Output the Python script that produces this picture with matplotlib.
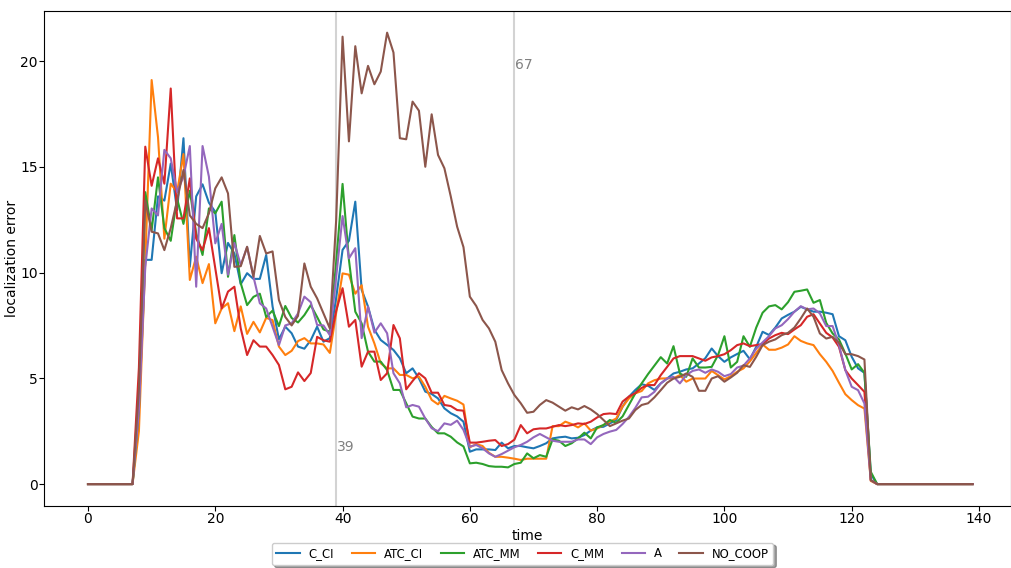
import matplotlib
matplotlib.use("Agg")
import matplotlib.pyplot as plt
import numpy as np

# localization error per time step for each strategy
time = np.arange(140)

c_ci = [0, 0, 0, 0, 0, 0, 0, 0,
        3.5, 10.6, 10.6, 13.6, 13.4, 15.15, 12.95, 16.35, 10.27, 13.6,
        14.17, 13.3, 12.87, 9.97, 11.4, 10.9, 9.45, 9.97, 9.7, 9.7,
        10.83, 8.4, 6.84, 7.44, 7.13, 6.5, 6.4, 6.8, 7.44, 6.73,
        6.9, 8.8, 11.07, 11.5, 13.35, 9.18, 8.39, 7.3, 6.81, 6.58,
        6.34, 5.95, 5.24, 5.47, 5.0, 4.37, 4.26, 4.05, 3.58, 3.35,
        3.2, 2.95, 1.53, 1.64, 1.64, 1.64, 1.61, 1.96, 1.69, 1.8,
        1.8, 1.74, 1.69, 1.8, 1.93, 2.16, 2.21, 2.24, 2.16, 2.19,
        2.32, 2.53, 2.68, 2.71, 2.87, 3.03, 3.66, 4.13, 4.45, 4.72,
        4.65, 4.45, 4.76, 4.99, 5.23, 5.31, 5.42, 5.47, 5.7, 5.95,
        6.41, 6.05, 5.78, 5.99, 6.15, 6.3, 5.9, 6.49, 7.2, 7.05,
        7.4, 7.83, 8.0, 8.15, 8.38, 8.26, 8.15, 8.15, 8.1, 8.03,
        6.99, 6.8, 6.02, 5.47, 5.26, 0.47,
        0, 0, 0, 0, 0, 0, 0, 0, 0, 0, 0, 0, 0, 0, 0, 0]

atc_ci = [0, 0, 0, 0, 0, 0, 0, 0,
          2.5, 10.5, 19.1, 16.4, 11.6, 14.2, 13.8, 15.6, 9.65, 10.75,
          9.5, 10.4, 7.6, 8.3, 8.55, 7.23, 8.4, 7.1, 7.67, 7.17,
          7.86, 7.75, 6.5, 6.1, 6.3, 6.76, 6.9, 6.65, 6.65, 6.6,
          6.2, 8.1, 9.96, 9.9, 9.0, 9.4, 7.44, 6.65, 5.71, 5.47,
          5.47, 5.16, 5.16, 5.0, 5.08, 4.6, 3.98, 3.77, 4.17, 4.05,
          3.94, 3.76, 1.74, 1.89, 1.8, 1.48, 1.29, 1.29, 1.25, 1.2,
          1.14, 1.2, 1.2, 1.2, 1.2, 2.74, 2.74, 2.95, 2.84, 2.68,
          2.87, 2.53, 2.63, 2.79, 2.95, 3.1, 3.66, 4.05, 4.29, 4.4,
          4.76, 4.91, 4.99, 5.0, 5.0, 5.15, 4.84, 4.99, 4.99, 4.99,
          5.35, 5.15, 4.95, 5.1, 5.31, 5.47, 5.8, 6.2, 6.6, 6.35,
          6.35, 6.45, 6.6, 6.99, 6.77, 6.65, 6.57, 6.14, 5.78, 5.35,
          4.79, 4.25, 3.97, 3.73, 3.57, 0.15,
          0, 0, 0, 0, 0, 0, 0, 0, 0, 0, 0, 0, 0, 0, 0, 0]

atc_mm = [0, 0, 0, 0, 0, 0, 0, 0,
          3.5, 13.8, 12.0, 14.5, 12.1, 11.5, 13.5, 12.3, 13.87, 11.85,
          10.83, 13.03, 12.8, 13.35, 9.8, 11.77, 9.5, 8.46, 8.85, 9.0,
          7.9, 8.2, 7.47, 8.42, 7.85, 7.64, 7.99, 8.46, 7.9, 7.31,
          7.2, 10.5, 14.19, 10.6, 8.15, 7.6, 6.26, 5.79, 5.79, 5.39,
          4.45, 4.45, 3.82, 3.19, 3.1, 3.1, 2.7, 2.4, 2.4, 2.24,
          1.97, 1.78, 0.98, 1.01, 0.95, 0.85, 0.82, 0.82, 0.79, 0.95,
          1.01, 1.45, 1.22, 1.37, 1.29, 2.11, 2.05, 1.8, 1.93, 2.16,
          2.43, 2.16, 2.68, 2.79, 3.03, 2.9, 3.2, 3.74, 4.29, 4.76,
          5.2, 5.6, 6.0, 5.7, 6.52, 5.23, 5.07, 5.94, 5.51, 5.51,
          5.54, 6.1, 6.99, 5.51, 5.78, 6.99, 6.49, 7.4, 8.1, 8.4,
          8.46, 8.26, 8.6, 9.09, 9.14, 9.2, 8.57, 8.7, 7.62, 7.12,
          6.84, 6.17, 5.42, 5.67, 5.26, 0.58,
          0, 0, 0, 0, 0, 0, 0, 0, 0, 0, 0, 0, 0, 0, 0, 0]

c_mm = [0, 0, 0, 0, 0, 0, 0, 0,
        5.5, 15.95, 14.1, 15.4, 14.2, 18.7, 12.56, 12.56, 14.45, 11.6,
        11.06, 12.1, 10.2, 8.3, 9.1, 9.33, 7.36, 6.1, 6.8, 6.5,
        6.5, 6.1, 5.63, 4.48, 4.6, 5.28, 4.87, 5.25, 6.96, 6.8,
        6.73, 8.2, 9.26, 7.44, 7.76, 5.55, 6.26, 6.26, 4.92, 5.24,
        7.52, 6.89, 4.48, 4.87, 5.24, 5.0, 4.32, 4.32, 3.74, 3.69,
        3.5, 3.47, 1.96, 1.96, 2.0, 2.05, 2.08, 1.8, 1.89, 2.1,
        2.79, 2.4, 2.59, 2.63, 2.63, 2.71, 2.79, 2.74, 2.79, 2.87,
        2.84, 2.95, 3.15, 3.31, 3.34, 3.31, 3.9, 4.14, 4.3, 4.55,
        4.68, 4.68, 5.15, 5.54, 5.94, 6.05, 6.05, 6.05, 5.94, 5.83,
        5.99, 6.05, 6.14, 6.33, 6.57, 6.65, 6.52, 6.57, 6.62, 6.88,
        7.04, 7.15, 7.09, 7.31, 7.51, 7.91, 8.03, 7.59, 7.15, 6.93,
        6.49, 5.39, 4.99, 4.68, 4.36, 0.19,
        0, 0, 0, 0, 0, 0, 0, 0, 0, 0, 0, 0, 0, 0, 0, 0]

a = [0, 0, 0, 0, 0, 0, 0, 0,
     3.5, 10.27, 13.03, 12.7, 15.8, 15.4, 13.8, 14.53, 15.98, 9.33,
     15.98, 14.53, 11.38, 12.3, 9.9, 11.4, 10.35, 11.2, 9.8, 8.55,
     8.3, 7.44, 6.57, 7.5, 7.6, 8.07, 8.86, 8.6, 7.52, 7.5,
     7.04, 9.8, 12.67, 10.67, 11.15, 6.9, 8.39, 7.16, 7.6, 7.13,
     5.24, 4.76, 3.63, 3.74, 3.66, 3.1, 2.64, 2.5, 2.87, 2.8,
     3.0, 2.56, 1.77, 1.85, 1.69, 1.45, 1.29, 1.42, 1.58, 1.74,
     1.85, 2.0, 2.21, 2.37, 2.21, 2.05, 2.0, 2.0, 2.0, 2.11,
     2.11, 1.89, 2.21, 2.37, 2.48, 2.56, 2.84, 3.18, 3.6, 4.1,
     4.13, 4.36, 4.76, 4.99, 5.07, 4.76, 5.15, 5.35, 5.42, 5.26,
     5.42, 5.31, 5.1, 5.2, 5.51, 5.6, 5.94, 6.4, 6.7, 6.99,
     7.36, 7.51, 7.8, 8.15, 8.41, 8.26, 8.3, 8.07, 7.47, 7.47,
     6.57, 5.39, 4.6, 4.44, 3.81, 0.19,
     0, 0, 0, 0, 0, 0, 0, 0, 0, 0, 0, 0, 0, 0, 0, 0]

no_coop = [0, 0, 0, 0, 0, 0, 0, 0,
           4.5, 13.4, 11.93, 11.85, 11.06, 12.1, 13.4, 14.85, 12.7, 12.3,
           12.1, 12.8, 13.98, 14.5, 13.74, 10.27, 10.3, 11.22, 9.8, 11.73,
           10.9, 11.0, 8.7, 7.9, 7.5, 7.95, 10.43, 9.33, 8.78, 8.07,
           7.36, 12.5, 21.15, 16.2, 20.7, 18.47, 19.77, 18.9, 19.5, 21.34,
           20.4, 16.35, 16.3, 18.08, 17.65, 15.0, 17.48, 15.56, 14.93, 13.6,
           12.17, 11.2, 8.86, 8.42, 7.76, 7.36, 6.73, 5.39, 4.76, 4.21,
           3.82, 3.37, 3.42, 3.74, 3.97, 3.85, 3.66, 3.47, 3.63, 3.53,
           3.69, 3.53, 3.31, 3.03, 2.74, 2.87, 3.0, 3.1, 3.5, 3.74,
           3.82, 4.1, 4.44, 4.79, 4.99, 5.07, 5.23, 5.07, 4.41, 4.41,
           4.99, 5.1, 4.84, 5.04, 5.26, 5.62, 5.54, 6.02, 6.57, 6.73,
           6.84, 7.04, 7.15, 7.4, 7.83, 8.3, 7.91, 7.12, 6.88, 6.96,
           6.68, 6.14, 6.14, 6.05, 5.89, 0.19,
           0, 0, 0, 0, 0, 0, 0, 0, 0, 0, 0, 0, 0, 0, 0, 0]

series = [("C_CI", c_ci), ("ATC_CI", atc_ci), ("ATC_MM", atc_mm),
          ("C_MM", c_mm), ("A", a), ("NO_COOP", no_coop)]

# time steps where the phases change
markers = [39, 67]
marker_label_y = [1.75, 19.8]

fig = plt.figure(figsize=(10.12, 5.68), dpi=100)
ax = fig.add_axes([0.0435, 0.109, 0.9555, 0.8715])

for name, values in series:
    ax.plot(time, values, label=name, linewidth=1.5)

for t, y in zip(markers, marker_label_y):
    ax.axvline(t, color="lightgray", linewidth=1.5, zorder=0)
    ax.text(t + 0.1, y, str(t), color="gray", va="center", ha="left")

ax.set_xlim(-6.91, 145.03)
ax.set_ylim(-1.04, 22.36)
ax.tick_params(axis="both", pad=1)
ax.set_xlabel("time", labelpad=2)
ax.set_ylabel("localization error", labelpad=1)
ax.legend(loc="upper center", bbox_to_anchor=(0.495, -0.062), ncol=6,
          fontsize="small", columnspacing=1.5, fancybox=True, shadow=True)

fig.savefig("out.png", dpi=100)
